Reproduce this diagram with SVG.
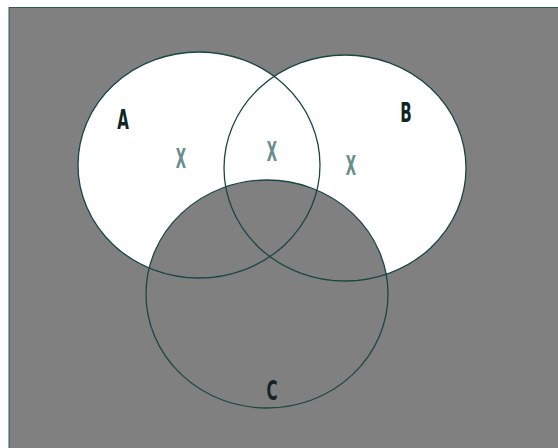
<svg xmlns="http://www.w3.org/2000/svg" width="558" height="448" viewBox="0 0 558 448">
<style>
.outline{fill:none;stroke:#1a4646;stroke-width:1.3}
.lbl{font-family:"DejaVu Sans Condensed","DejaVu Sans",sans-serif;font-weight:bold;font-size:27px;fill:#0f2424;text-anchor:middle}
.x{font-family:"DejaVu Sans Condensed","DejaVu Sans",sans-serif;font-weight:bold;font-size:27px;fill:#6a8e8c;text-anchor:middle}
</style>
<rect width="558" height="448" fill="#ffffff"/>
<rect x="9" y="7.5" width="560" height="450" fill="#808080" stroke="#2a5a5a" stroke-width="1"/>
<g id="A"><ellipse cx="199" cy="165" rx="121" ry="113" fill="#ffffff"/></g>
<g id="B"><ellipse cx="345" cy="168" rx="121" ry="113" fill="#ffffff"/></g>
<g id="C"><ellipse cx="267" cy="294" rx="121" ry="114" fill="#808080"/></g>
<g id="outlines">
<ellipse class="outline" cx="199" cy="165" rx="121" ry="113"/>
<ellipse class="outline" cx="345" cy="168" rx="121" ry="113"/>
<ellipse class="outline" cx="267" cy="294" rx="121" ry="114"/>
</g>
<g id="labels">
<text class="lbl" x="123" y="129" transform="translate(123 0) scale(0.62 1) translate(-123 0)">A</text>
<text class="lbl" x="406" y="122" transform="translate(406 0) scale(0.62 1) translate(-406 0)">B</text>
<text class="lbl" x="272" y="400" transform="translate(272 0) scale(0.62 1) translate(-272 0)">C</text>
<text class="x" x="181" y="168" transform="translate(181 0) scale(0.55 1) translate(-181 0)">X</text>
<text class="x" x="272" y="161" transform="translate(272 0) scale(0.55 1) translate(-272 0)">X</text>
<text class="x" x="351" y="175" transform="translate(351 0) scale(0.55 1) translate(-351 0)">X</text>
</g>
</svg>
